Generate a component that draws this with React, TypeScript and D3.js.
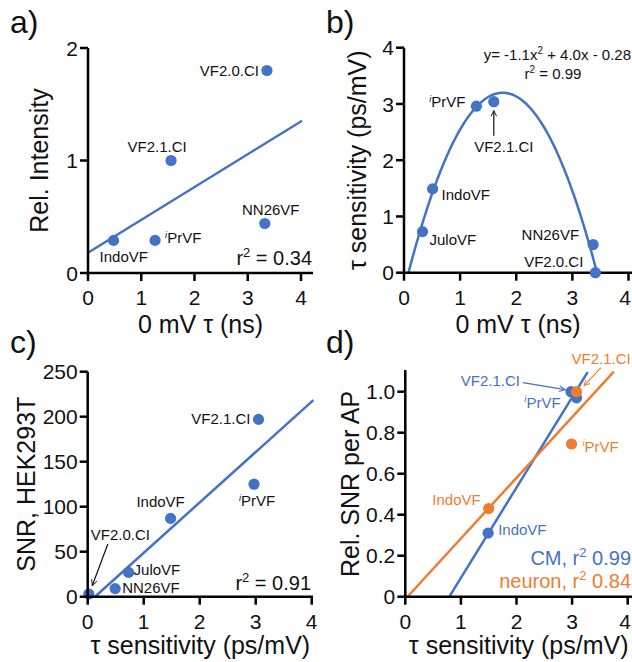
import React from "react";
import * as d3 from "d3";

const BLUE = "#4472c4";
const ORANGE = "#ed7d31";
const INK = "#111";
const FONT = "'Liberation Sans', Arial, Helvetica, sans-serif";

// ---------- Panel a data ----------
const aNames = ["IndoVF", "iPrVF", "VF2.1.CI", "NN26VF", "VF2.0.CI"];
const aX = [0.48, 1.26, 1.56, 3.32, 3.36];
const aY = [0.29, 0.29, 1.0, 0.44, 1.8];
const aFit = [0.18, 0.292]; // intercept, slope
const aFitRange = [0, 4.02];
const aR2 = "0.34";
const aXTicks = [0, 1, 2, 3, 4];
const aYTicks = [0, 1, 2];

// ---------- Panel b data ----------
const bNames = ["JuloVF", "IndoVF", "iPrVF", "VF2.1.CI", "NN26VF", "VF2.0.CI"];
const bX = [0.33, 0.51, 1.29, 1.6, 3.37, 3.41];
const bY = [0.73, 1.49, 2.96, 3.04, 0.5, 0.0];
const bFit = [-0.31, 3.99, -1.134]; // c0, c1, c2 (as drawn)
const bEquation = ["y= -1.1x", "2", " + 4.0x - 0.28"];
const bR2 = "0.99";
const bXTicks = [0, 1, 2, 3, 4];
const bYTicks = [0, 1, 2, 3, 4];

// ---------- Panel c data ----------
const cNames = ["VF2.0.CI", "NN26VF", "JuloVF", "IndoVF", "iPrVF", "VF2.1.CI"];
const cX = [0.02, 0.49, 0.73, 1.48, 2.97, 3.05];
const cY = [3, 9, 27, 87, 125, 197];
const cFit = [-7.3, 56];
const cFitRange = [0.13, 4.03];
const cR2 = "0.91";
const cXTicks = [0, 1, 2, 3, 4];
const cYTicks = [0, 50, 100, 150, 200, 250];

// ---------- Panel d data ----------
const dNames = ["IndoVF", "iPrVF", "VF2.1.CI"];
const dCmX = [1.49, 3.08, 2.98];
const dCmY = [0.31, 0.97, 1.0];
const dNeuronX = [1.5, 2.99, 3.08];
const dNeuronY = [0.43, 0.745, 1.0];
const dCmFit = [-0.348, 0.44];
const dCmFitRange = [0.79, 3.28];
const dNeuronFit = [-0.012, 0.296];
const dNeuronFitRange = [0.04, 3.75];
const dCmR2 = "0.99";
const dNeuronR2 = "0.84";
const dXTicks = [0, 1, 2, 3, 4];
const dYTicks = [0, 0.2, 0.4, 0.6, 0.8, 1.0];
const dYTickLabels = ["0", "0.2", "0.4", "0.6", "0.8", "1.0"];

// ---------- layout ----------
const W = 632;
const xA = d3.scaleLinear().domain([0, 4]).range([88, 301]);
const yA = d3.scaleLinear().domain([0, 2]).range([273, 48]);
const xB = d3.scaleLinear().domain([0, 4]).range([404, 628.5]);
const yB = d3.scaleLinear().domain([0, 4]).range([272.7, 47.7]);
const xC = d3.scaleLinear().domain([0, 4]).range([87.7, 311.7]);
const yC = d3.scaleLinear().domain([0, 250]).range([596.7, 371.7]);
const xD = d3.scaleLinear().domain([0, 4]).range([405.3, 627.7]);
const yD = d3.scaleLinear().domain([0, 1.1]).range([596.7, 371.2]);

type Off = { dx: number; dy: number; a: "start" | "middle" | "end" };
type Arr = [number, number, number, number];

const aLab: Record<string, Off> = {
  IndoVF: { dx: -14, dy: 22, a: "start" },
  iPrVF: { dx: 10, dy: 3, a: "start" },
  "VF2.1.CI": { dx: -14, dy: -9, a: "middle" },
  NN26VF: { dx: 6, dy: -9, a: "middle" },
  "VF2.0.CI": { dx: -8, dy: 5.5, a: "end" },
};
const bLab: Record<string, Off> = {
  JuloVF: { dx: 7, dy: 13, a: "start" },
  IndoVF: { dx: 9, dy: 11, a: "start" },
  iPrVF: { dx: -11, dy: 1, a: "end" },
  "VF2.1.CI": { dx: 10, dy: 50, a: "middle" },
  NN26VF: { dx: -14, dy: -5, a: "end" },
  "VF2.0.CI": { dx: -12, dy: -6, a: "end" },
};
const bArrows: Record<string, Arr> = { "VF2.1.CI": [0, 34, 0, 9] };
const cLab: Record<string, Off> = {
  "VF2.0.CI": { dx: 2, dy: -54, a: "start" },
  NN26VF: { dx: 7, dy: 4.5, a: "start" },
  JuloVF: { dx: 5, dy: 3, a: "start" },
  IndoVF: { dx: -10, dy: -11, a: "middle" },
  iPrVF: { dx: -15, dy: 22, a: "start" },
  "VF2.1.CI": { dx: -8, dy: 5, a: "end" },
};
const cArrows: Record<string, Arr> = { "VF2.0.CI": [19, -50, 3.5, -8.5] };
const dCmLab: Record<string, Off> = {
  IndoVF: { dx: 10, dy: 2, a: "start" },
  iPrVF: { dx: -16, dy: 10, a: "end" },
  "VF2.1.CI": { dx: -51, dy: -6, a: "end" },
};
const dCmArrows: Record<string, Arr> = { "VF2.1.CI": [-48, -9, -6, -2] };
const dNeuronLab: Record<string, Off> = {
  IndoVF: { dx: -8, dy: -3.5, a: "end" },
  iPrVF: { dx: 11, dy: 8, a: "start" },
  "VF2.1.CI": { dx: -5, dy: -28, a: "start" },
};
const dNeuronArrows: Record<string, Arr> = { "VF2.1.CI": [24.5, -24, 7.5, -6] };

const AXW = 2.5;
const TICK = 8;
const TICKFS = 21;
const TITLEFS = 25;
const LABFS = 15;

function Axes(props: {
  x: d3.ScaleLinear<number, number>;
  y: d3.ScaleLinear<number, number>;
  xTicks: number[];
  yTicks: number[];
  yLabels?: string[];
  xEnd: number;
  yTop: number;
  xTitle: string;
  yTitle: string;
  xTitleY: number;
  yTitleX: number;
}) {
  const { x, y, xTicks, yTicks, yLabels, xEnd, yTop } = props;
  const x0 = x(0);
  const y0 = y(0);
  const [ya, yb] = y.range();
  const titleEnd = Math.min(xEnd, W);
  return (
    <g>
      <line x1={x0 - AXW / 2} x2={xEnd} y1={y0} y2={y0} stroke="#000" strokeWidth={AXW} />
      <line x1={x0} x2={x0} y1={y0 + AXW / 2} y2={yTop} stroke="#000" strokeWidth={AXW} />
      {xTicks.map((t) => {
        const tx = x(t);
        const atEdge = tx + 7 > W;
        return (
          <g key={"x" + t}>
            <line x1={tx} x2={tx} y1={y0} y2={y0 + TICK} stroke="#000" strokeWidth={AXW} />
            <text
              x={atEdge ? W - 1 : tx}
              y={y0 + 32}
              textAnchor={atEdge ? "end" : "middle"}
              fontSize={TICKFS}
              fill={INK}
            >
              {String(t)}
            </text>
          </g>
        );
      })}
      {yTicks.map((t, i) => (
        <g key={"y" + t}>
          <line x1={x0 - TICK} x2={x0} y1={y(t)} y2={y(t)} stroke="#000" strokeWidth={AXW} />
          <text x={x0 - 10} y={y(t)} dy="0.36em" textAnchor="end" fontSize={TICKFS} fill={INK}>
            {yLabels ? yLabels[i] : String(t)}
          </text>
        </g>
      ))}
      <text x={(x0 + titleEnd) / 2} y={props.xTitleY} textAnchor="middle" fontSize={TITLEFS} fill={INK}>
        {props.xTitle}
      </text>
      <text
        transform={`translate(${props.yTitleX},${(ya + yb) / 2}) rotate(-90)`}
        textAnchor="middle"
        fontSize={TITLEFS}
        fill={INK}
      >
        {props.yTitle}
      </text>
    </g>
  );
}

function Name({ name, x, y, anchor, color, fs }: { name: string; x: number; y: number; anchor: string; color: string; fs: number }) {
  if (name === "iPrVF") {
    return (
      <text x={x} y={y} textAnchor={anchor} fontSize={fs} fill={color}>
        <tspan fontSize={fs * 0.62} fontStyle="italic" dy={-fs * 0.38}>i</tspan>
        <tspan dy={fs * 0.38}>PrVF</tspan>
      </text>
    );
  }
  return (
    <text x={x} y={y} textAnchor={anchor} fontSize={fs} fill={color}>
      {name}
    </text>
  );
}

function Points(props: {
  names: string[];
  xs: number[];
  ys: number[];
  x: d3.ScaleLinear<number, number>;
  y: d3.ScaleLinear<number, number>;
  color: string;
  labColor: string;
  lab: Record<string, Off>;
  arrows?: Record<string, Arr>;
  arrowId?: string;
  showDots?: boolean;
  showLabels?: boolean;
}) {
  const { names, xs, ys, x, y, color, labColor, lab, arrows } = props;
  return (
    <g>
      {props.showDots !== false &&
        names.map((n, i) => <circle key={"c" + n} cx={x(xs[i])} cy={y(ys[i])} r={5.6} fill={color} />)}
      {props.showLabels !== false &&
        names.map((n, i) => {
          const px = x(xs[i]);
          const py = y(ys[i]);
          const o = lab[n];
          const ar = arrows ? arrows[n] : undefined;
          return (
            <g key={"l" + n}>
              <Name name={n} x={px + o.dx} y={py + o.dy} anchor={o.a} color={labColor} fs={LABFS} />
              {ar && (
                <line
                  x1={px + ar[0]}
                  y1={py + ar[1]}
                  x2={px + ar[2]}
                  y2={py + ar[3]}
                  stroke={labColor}
                  strokeWidth={1.2}
                  markerEnd={`url(#${props.arrowId})`}
                />
              )}
            </g>
          );
        })}
    </g>
  );
}

function FitLine({ fit, range, x, y, color }: { fit: number[]; range: number[]; x: any; y: any; color: string }) {
  const pts: [number, number][] = range.map((v) => [v, fit[0] + fit[1] * v]);
  const line = d3
    .line<[number, number]>()
    .x((d) => x(d[0]))
    .y((d) => y(d[1]));
  return <path d={line(pts) || ""} fill="none" stroke={color} strokeWidth={2.5} />;
}

function R2({ x, y, value, prefix, color, anchor }: { x: number; y: number; value: string; prefix: string; color: string; anchor: string }) {
  return (
    <text x={x} y={y} textAnchor={anchor} fontSize={20} fill={color}>
      {prefix}r<tspan fontSize={13} dy={-8}>2</tspan>
      <tspan dy={8}>{prefix ? " " + value : " = " + value}</tspan>
    </text>
  );
}

export default function App() {
  // parabola for panel b
  const [c0, c1, c2] = bFit;
  const disc = Math.sqrt(c1 * c1 - 4 * c2 * c0);
  const r1 = (-c1 + disc) / (2 * c2);
  const r2 = (-c1 - disc) / (2 * c2);
  const lo = Math.min(r1, r2);
  const hi = Math.max(r1, r2);
  const curvePts: [number, number][] = d3.range(0, 121).map((i) => {
    const xv = lo + ((hi - lo) * i) / 120;
    return [xv, Math.max(0, c0 + c1 * xv + c2 * xv * xv)];
  });
  const curve = d3
    .line<[number, number]>()
    .x((d) => xB(d[0]))
    .y((d) => yB(d[1]))
    .curve(d3.curveMonotoneX);

  const marker = (id: string, color: string) => (
    <marker id={id} viewBox="0 0 10 10" refX="9" refY="5" markerWidth="7" markerHeight="7" orient="auto-start-reverse" markerUnits="userSpaceOnUse">
      <path d="M1,1 L9,5 L1,9" fill="none" stroke={color} strokeWidth={1.4} />
    </marker>
  );

  return (
    <svg
      width={632}
      height={662}
      style={{ position: "fixed", left: 0, top: 0, background: "#fff" }}
      fontFamily={FONT}
    >
      <defs>
        {marker("arK", "#111")}
        {marker("arB", BLUE)}
        {marker("arO", ORANGE)}
      </defs>
      <rect x={0} y={0} width={632} height={662} fill="#fff" />

      {/* panel labels */}
      <text x={10} y={33} fontSize={32} fill={INK}>a)</text>
      <text x={326} y={33} fontSize={32} fill={INK}>b)</text>
      <text x={10} y={353} fontSize={32} fill={INK}>c)</text>
      <text x={326} y={353} fontSize={32} fill={INK}>d)</text>

      {/* ---- a ---- */}
      <FitLine fit={aFit} range={aFitRange} x={xA} y={yA} color={BLUE} />
      <Axes x={xA} y={yA} xTicks={aXTicks} yTicks={aYTicks} xEnd={313} yTop={yA(2)} xTitle="0 mV τ (ns)" yTitle="Rel. Intensity" xTitleY={333} yTitleX={48} />
      <Points names={aNames} xs={aX} ys={aY} x={xA} y={yA} color={BLUE} labColor={INK} lab={aLab} />
      <R2 x={312} y={265} value={aR2} prefix="" color={INK} anchor="end" />

      {/* ---- b ---- */}
      <path d={curve(curvePts) || ""} fill="none" stroke={BLUE} strokeWidth={2.5} />
      <Axes x={xB} y={yB} xTicks={bXTicks} yTicks={bYTicks} xEnd={640} yTop={yB(4)} xTitle="0 mV τ (ns)" yTitle="τ sensitivity (ps/mV)" xTitleY={333} yTitleX={366} />
      <Points names={bNames} xs={bX} ys={bY} x={xB} y={yB} color={BLUE} labColor={INK} lab={bLab} arrows={bArrows} arrowId="arK" />
      <text x={631} y={60} textAnchor="end" fontSize={15} fill={INK}>
        {bEquation[0]}
        <tspan fontSize={10} dy={-6}>{bEquation[1]}</tspan>
        <tspan dy={6}>{bEquation[2]}</tspan>
      </text>
      <text x={553} y={79} textAnchor="middle" fontSize={15} fill={INK}>
        r<tspan fontSize={10} dy={-6}>2</tspan>
        <tspan dy={6}>{" = " + bR2}</tspan>
      </text>

      {/* ---- c ---- */}
      <FitLine fit={cFit} range={cFitRange} x={xC} y={yC} color={BLUE} />
      <Points names={cNames} xs={cX} ys={cY} x={xC} y={yC} color={BLUE} labColor={INK} lab={cLab} showLabels={false} />
      <Axes x={xC} y={yC} xTicks={cXTicks} yTicks={cYTicks} xEnd={313} yTop={yC(250)} xTitle="τ sensitivity (ps/mV)" yTitle="SNR, HEK293T" xTitleY={654} yTitleX={35} />
      <Points names={cNames} xs={cX} ys={cY} x={xC} y={yC} color={BLUE} labColor={INK} lab={cLab} arrows={cArrows} arrowId="arK" showDots={false} />
      <R2 x={311} y={590} value={cR2} prefix="" color={INK} anchor="end" />

      {/* ---- d ---- */}
      <FitLine fit={dCmFit} range={dCmFitRange} x={xD} y={yD} color={BLUE} />
      <FitLine fit={dNeuronFit} range={dNeuronFitRange} x={xD} y={yD} color={ORANGE} />
      <Axes x={xD} y={yD} xTicks={dXTicks} yTicks={dYTicks} yLabels={dYTickLabels} xEnd={640} yTop={370} xTitle="τ sensitivity (ps/mV)" yTitle="Rel. SNR per AP" xTitleY={654} yTitleX={359} />
      <Points names={dNames} xs={dCmX} ys={dCmY} x={xD} y={yD} color={BLUE} labColor={BLUE} lab={dCmLab} arrows={dCmArrows} arrowId="arB" />
      <Points names={dNames} xs={dNeuronX} ys={dNeuronY} x={xD} y={yD} color={ORANGE} labColor={ORANGE} lab={dNeuronLab} arrows={dNeuronArrows} arrowId="arO" />
      <R2 x={631} y={565} value={dCmR2} prefix="CM, " color={BLUE} anchor="end" />
      <R2 x={631} y={588} value={dNeuronR2} prefix="neuron, " color={ORANGE} anchor="end" />
    </svg>
  );
}
